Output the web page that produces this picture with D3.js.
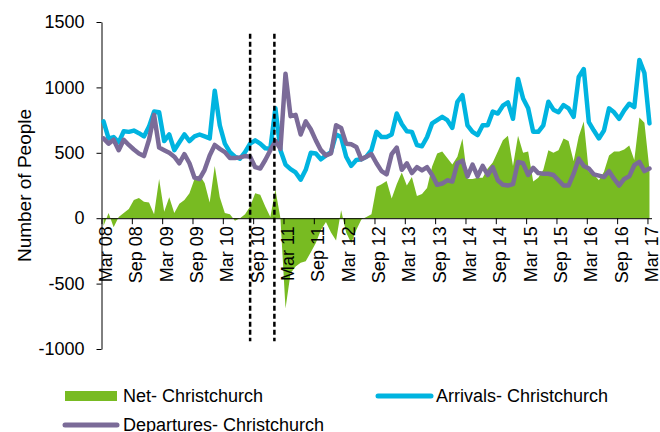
<!DOCTYPE html>
<html>
<head>
<meta charset="utf-8">
<script src="https://cdn.jsdelivr.net/npm/d3@7"></script>
<style>
  html, body { margin: 0; padding: 0; background: #fff; }
  svg { display: block; font-family: "Liberation Sans", Arial, sans-serif; }
</style>
</head>
<body>
<svg id="chart" width="660" height="432"></svg>
<script>
// Month index 0 = Mar 2008 ... 108 = Mar 2017
const tickLabels = ["Mar 08","Sep 08","Mar 09","Sep 09","Mar 10","Sep 10","Mar 11","Sep 11","Mar 12","Sep 12","Mar 13","Sep 13","Mar 14","Sep 14","Mar 15","Sep 15","Mar 16","Sep 16","Mar 17"];
const yTicks = [-1000, -500, 0, 500, 1000, 1500];

const arrivals = [
  740, 610, 620, 580, 665, 660, 670, 650, 625, 700, 815, 810,
  590, 640, 520, 580, 640, 590, 625, 640, 625, 610, 975, 710,
  570, 505, 470, 455, 505, 570, 595, 570, 535, 530, 840, 520,
  410, 375, 350, 295, 370, 500, 495, 450, 480, 505, 640, 620,
  470, 400, 445, 450, 470, 520, 660, 620, 620, 640, 800, 720,
  665, 660, 560, 550, 620, 725, 750, 775, 750, 690, 890, 940,
  710, 660, 635, 710, 710, 815, 800, 860, 885, 760, 1065, 915,
  840, 660, 660, 710, 890, 830, 810, 865, 840, 775, 1080, 1140,
  735, 670, 610, 670, 840, 810, 760, 825, 875, 850, 1210, 1110,
  725
];
const departures = [
  610, 570, 600, 520, 600, 560, 525, 495, 475, 600, 790, 540,
  520, 500, 470, 420, 490, 420, 310, 300, 370, 480, 560, 530,
  505, 460, 460, 465, 475, 470, 390, 380, 445, 520, 590, 530,
  1105, 780, 790, 640, 740, 680, 595, 520, 480, 495, 710, 690,
  570, 565, 545, 450, 470, 490, 420, 360, 335, 490, 540, 370,
  420, 345, 390, 365, 390, 330, 255, 265, 290, 280, 420, 440,
  320, 410, 320, 400, 330, 390, 290, 255, 250, 260, 430, 420,
  330, 385, 345, 340, 340, 330, 290, 250, 250, 340, 455, 400,
  380, 335, 325, 315, 360, 300, 250, 300, 320, 405, 430, 360,
  380
];
const net = [
  -60, 40, -70, 10, 40, 70, 140, 155, 125, 120, 30, 300,
  50, 160, 40, 110, 140, 190, 300, 330, 270, 120, 400, 160,
  40, 30, -20, 0, 30, 90, 190, 180, 90, 10, 220, 0,
  -690, -420, -370, -340, -330, -260, -190, -90, -30, -110, -170, 60,
  -110, -190, -90, -10, 10, 30, 240, 260, 285, 150, 260, 350,
  250, 315, 170, 185, 230, 395, 495, 510, 460, 410, 470, 610,
  300, 300, 310, 310, 380, 425, 510, 595, 630, 400, 630, 500,
  510, 280, 310, 370, 520, 500, 520, 610, 590, 435, 625, 740,
  355, 335, 290, 355, 480, 510, 510, 525, 555, 445, 770, 730,
  370
];
// Earthquake markers (month index) and their vertical extent (people)
const eventMonths = [29.4, 34.2];
const eventRange = [1410, -940];

const seriesNames = ["Net- Christchurch", "Arrivals- Christchurch", "Departures- Christchurch"];
const colors = { net: "#78bb22", arr: "#00b4e0", dep: "#7b6b98" };

const svg = d3.select("#chart");
const dataOffset = 0.4;

const x = d3.scaleLinear().domain([0, 108.8]).range([101.5, 651.5]);
const y = d3.scaleLinear().domain([-1000, 1500]).range([349, 22]);
const idx = d3.range(arrivals.length);

// Net area
const area = d3.area()
  .x(i => x(i + dataOffset))
  .y0(y(0))
  .y1(i => y(net[i]));
svg.append("path")
  .attr("d", area(idx))
  .attr("fill", colors.net);

// Axes
const yAxis = d3.axisLeft(y).tickValues(yTicks).tickFormat(d => String(d))
  .tickSize(5).tickSizeOuter(0).tickPadding(12);
const gy = svg.append("g").attr("transform", `translate(${x(0)},0)`).call(yAxis);
gy.selectAll("text").attr("font-size", 18).attr("fill", "#000").attr("font-family", "Liberation Sans, Arial, sans-serif");
gy.selectAll("line, path").attr("stroke", "#000");

const xTickVals = tickLabels.map((d, k) => k * 6);
const xAxis = d3.axisBottom(x).tickValues(xTickVals).tickFormat((d, k) => tickLabels[k]).tickSize(6).tickSizeOuter(0);
const gx = svg.append("g").attr("transform", `translate(0,${y(0)})`).call(xAxis);
gx.selectAll("line, path").attr("stroke", "#000");
gx.selectAll("text")
  .attr("font-size", 18).attr("fill", "#000").attr("font-family", "Liberation Sans, Arial, sans-serif")
  .attr("text-anchor", "end")
  .attr("x", 0).attr("y", 0).attr("dy", null)
  .attr("transform", "translate(10,8) rotate(-90)");

// Lines
const lineOf = arr => d3.line().x(i => x(i + dataOffset)).y(i => y(arr[i]))(idx);
svg.append("path").attr("d", lineOf(arrivals)).attr("fill", "none")
  .attr("stroke", colors.arr).attr("stroke-width", 4.5).attr("stroke-linejoin", "round").attr("stroke-linecap", "round");
svg.append("path").attr("d", lineOf(departures)).attr("fill", "none")
  .attr("stroke", colors.dep).attr("stroke-width", 4.5).attr("stroke-linejoin", "round").attr("stroke-linecap", "round");

// Event dashed lines
svg.selectAll("line.event").data(eventMonths).join("line")
  .attr("class", "event")
  .attr("x1", d => x(d)).attr("x2", d => x(d))
  .attr("y1", y(eventRange[0])).attr("y2", y(eventRange[1]))
  .attr("stroke", "#000").attr("stroke-width", 2.5).attr("stroke-dasharray", "5,3");

// Y axis title
svg.append("text")
  .attr("transform", `translate(31,${(y(1500) + y(-1000)) / 2}) rotate(-90)`)
  .attr("text-anchor", "middle")
  .attr("font-size", 19)
  .attr("fill", "#000")
  .text("Number of People");

// Legend
const lg = svg.append("g");
lg.append("rect").attr("x", 65).attr("y", 391).attr("width", 52).attr("height", 10).attr("fill", colors.net);
lg.append("text").attr("x", 123).attr("y", 402).attr("font-size", 18).text(seriesNames[0]);
lg.append("line").attr("x1", 378).attr("x2", 431).attr("y1", 396).attr("y2", 396)
  .attr("stroke", colors.arr).attr("stroke-width", 5).attr("stroke-linecap", "round");
lg.append("text").attr("x", 436).attr("y", 402).attr("font-size", 18).text(seriesNames[1]);
lg.append("line").attr("x1", 65).attr("x2", 117).attr("y1", 425).attr("y2", 425)
  .attr("stroke", colors.dep).attr("stroke-width", 5).attr("stroke-linecap", "round");
lg.append("text").attr("x", 123).attr("y", 431).attr("font-size", 18).text(seriesNames[2]);
</script>
</body>
</html>
